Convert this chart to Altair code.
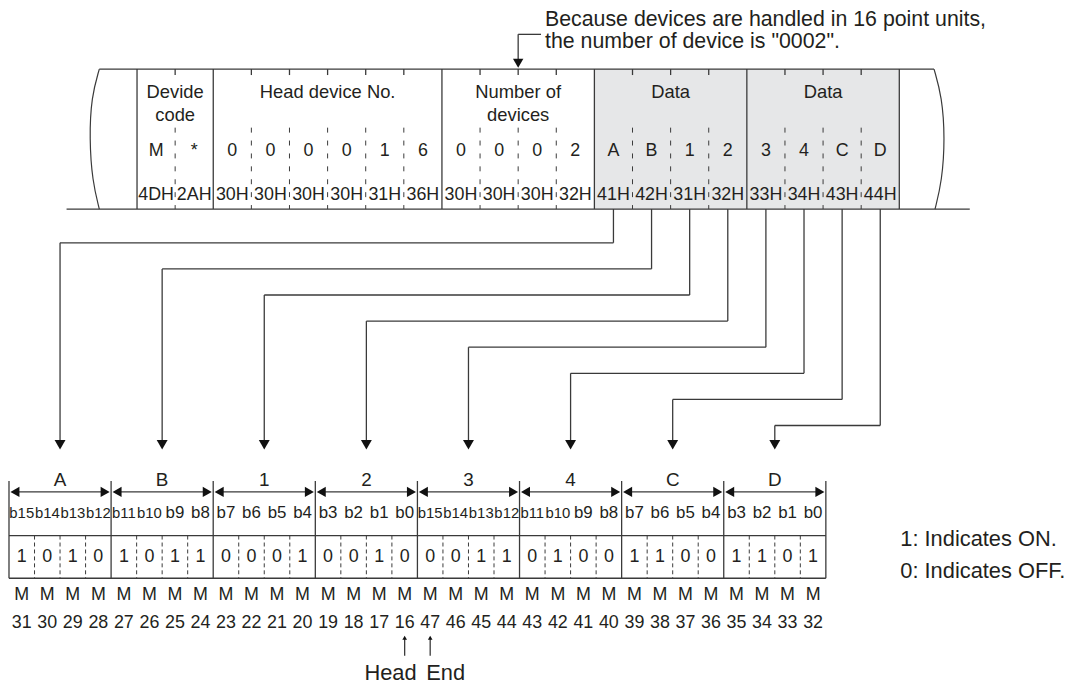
import altair as alt
import pandas as pd

# ---------------- data ----------------
field_names = [["Devide", "code"], ["Head device No."], ["Number of", "devices"], ["Data"], ["Data"]]
field_cells = [2, 6, 4, 4, 4]
char_row = ["M", "*", "0", "0", "0", "0", "1", "6", "0", "0", "0", "2",
            "A", "B", "1", "2", "3", "4", "C", "D"]
hex_row = ["4DH", "2AH", "30H", "30H", "30H", "30H", "31H", "36H", "30H", "30H", "30H", "32H",
           "41H", "42H", "31H", "32H", "33H", "34H", "43H", "44H"]
group_labels = ["A", "B", "1", "2", "3", "4", "C", "D"]
bit_labels = ["b15", "b14", "b13", "b12", "b11", "b10", "b9", "b8",
              "b7", "b6", "b5", "b4", "b3", "b2", "b1", "b0"]
bit_values = [1, 0, 1, 0, 1, 0, 1, 1, 0, 0, 0, 1, 0, 0, 1, 0,
              0, 0, 1, 1, 0, 1, 0, 0, 1, 1, 0, 0, 1, 1, 0, 1]
device_numbers = [31, 30, 29, 28, 27, 26, 25, 24, 23, 22, 21, 20, 19, 18, 17, 16,
                  47, 46, 45, 44, 43, 42, 41, 40, 39, 38, 37, 36, 35, 34, 33, 32]
note_lines = ["Because devices are handled in 16 point units,", 'the number of device is "0002".']
legend_lines = ["1: Indicates ON.", "0: Indicates OFF."]
marker_labels = ["Head", "End"]

# ---------------- layout ----------------
X0, CW = 138.0, 38.4          # top frame cells
TOP, BOT = 67.0, 208.0
BX0 = 9.0                     # bottom table groups
GW = (832.0 - BX0) / 8
SW = GW / 4
DIM_Y, ROW1, ROW2 = 493.0, 537.0, 580.0
LINE = "#3a3a3a"
TXT = "#231f20"
FONT = "Liberation Sans"

texts = []      # centered
ltexts = []     # left aligned
rtexts = []     # right aligned
ntexts = []     # left aligned, alphabetic baseline
solid = []
dash_top = []
dash_bot = []
tri = []

# top frame
solid.append(dict(x=100, y=TOP, x2=941, y2=TOP))
solid.append(dict(x=67, y=BOT, x2=977, y2=BOT))
edges = [0]
for n in field_cells:
    edges.append(edges[-1] + n)
for k in range(21):
    xx = X0 + CW * k
    if k in edges:
        solid.append(dict(x=xx, y=TOP, x2=xx, y2=BOT))
    else:
        solid.append(dict(x=xx, y=TOP, x2=xx, y2=TOP + 6))
        dash_top.append(dict(x=xx, y=126, x2=xx, y2=BOT))
for i, names in enumerate(field_names):
    cx = X0 + CW * (edges[i] + edges[i + 1]) / 2
    for j, t in enumerate(names):
        texts.append(dict(x=cx, y=90 + 23 * j, text=t, size=18.5))
for k in range(20):
    cx = X0 + CW * (k + 0.5)
    texts.append(dict(x=cx, y=150, text=char_row[k], size=18))
    texts.append(dict(x=cx, y=194, text=hex_row[k], size=18))

# note
for j, t in enumerate(note_lines):
    ntexts.append(dict(x=549, y=23.5 + 22 * j, text=t, size=21.5))
ax = X0 + CW * 10
solid.append(dict(x=ax, y=32, x2=545, y2=32))
solid.append(dict(x=ax, y=32, x2=ax, y2=60))
tri.append(dict(x=ax, y=TOP - 6, shape="triangle-down", size=110))

# connectors
for i in range(8):
    sx = X0 + CW * (12 + i + 0.5)
    ly = 242 + 26.3 * i
    tx = BX0 + GW * (i + 0.5)
    solid.append(dict(x=sx, y=BOT, x2=sx, y2=ly))
    solid.append(dict(x=sx, y=ly, x2=tx, y2=ly))
    solid.append(dict(x=tx, y=ly, x2=tx, y2=442))
    tri.append(dict(x=tx, y=445.5, shape="triangle-down", size=121))

# bottom table
for g in range(9):
    xx = BX0 + GW * g
    solid.append(dict(x=xx, y=482, x2=xx, y2=ROW2))
solid.append(dict(x=BX0, y=ROW1, x2=BX0 + 8 * GW, y2=ROW1))
solid.append(dict(x=BX0, y=ROW2, x2=BX0 + 8 * GW, y2=ROW2))
for g in range(8):
    gx = BX0 + GW * g
    solid.append(dict(x=gx + 6, y=DIM_Y, x2=gx + GW - 6, y2=DIM_Y))
    tri.append(dict(x=gx + 6, y=DIM_Y, shape="triangle-left", size=110))
    tri.append(dict(x=gx + GW - 6, y=DIM_Y, shape="triangle-right", size=110))
    texts.append(dict(x=gx + GW / 2, y=481, text=group_labels[g], size=19))
    for s in range(1, 4):
        xx = gx + SW * s
        dash_bot.append(dict(x=xx, y=ROW1, x2=xx, y2=ROW2))
for b in range(32):
    cx = BX0 + SW * (b + 0.5)
    lab = bit_labels[b % 16]
    texts.append(dict(x=cx, y=514, text=lab, size=15 if len(lab) == 3 else 17))
    texts.append(dict(x=cx, y=559, text=str(bit_values[b]), size=18))
    texts.append(dict(x=cx, y=597, text="M", size=18))
    texts.append(dict(x=cx, y=625, text=str(device_numbers[b]), size=18))

# head / end markers
hx = BX0 + SW * 15.5
ex = BX0 + SW * 16.5
for xx in (hx, ex):
    solid.append(dict(x=xx, y=640, x2=xx, y2=658))
    tri.append(dict(x=xx, y=640, shape="triangle-up", size=22))
rtexts.append(dict(x=hx + 12, y=676, text=marker_labels[0], size=22))
ltexts.append(dict(x=ex - 4, y=676, text=marker_labels[1], size=22))

# legend
for j, t in enumerate(legend_lines):
    ltexts.append(dict(x=907, y=540 + 33 * j, text=t, size=22))

# wavy ends
waves = pd.DataFrame([
    dict(side="L", o=0, x=100, y=67), dict(side="L", o=1, x=92, y=95), dict(side="L", o=2, x=90, y=137),
    dict(side="L", o=3, x=93, y=180), dict(side="L", o=4, x=100, y=208),
    dict(side="R", o=0, x=941, y=67), dict(side="R", o=1, x=949, y=95), dict(side="R", o=2, x=952, y=137),
    dict(side="R", o=3, x=949, y=180), dict(side="R", o=4, x=942, y=208),
])

# ---------------- chart ----------------
xs = alt.Scale(domain=[8, 1080], nice=False, zero=False)
ys = alt.Scale(domain=[8, 686], nice=False, zero=False, reverse=True)
X = lambda f="x": alt.X(f"{f}:Q", scale=xs, axis=None)
Y = lambda f="y": alt.Y(f"{f}:Q", scale=ys, axis=None)

gray = alt.Chart(pd.DataFrame([dict(x=X0 + CW * 12, x2=X0 + CW * 20, y=TOP, y2=BOT)])).mark_rect(
    color="#e6e7e8").encode(x=X(), x2="x2:Q", y=Y(), y2="y2:Q")

def rules(rows, dash=None, width=1.3):
    kw = dict(color=LINE, strokeWidth=width)
    if dash:
        kw["strokeDash"] = dash
    return alt.Chart(pd.DataFrame(rows)).mark_rule(**kw).encode(x=X(), x2="x2:Q", y=Y(), y2="y2:Q")

wave = alt.Chart(waves).mark_line(color=LINE, strokeWidth=1.2, interpolate="basis").encode(
    x=X(), y=Y(), detail="side:N", order="o:Q")

tris = alt.Chart(pd.DataFrame(tri)).mark_point(filled=True, opacity=1, color="#111111", strokeWidth=0).encode(
    x=X(), y=Y(), shape=alt.Shape("shape:N", scale=None), size=alt.Size("size:Q", scale=None))

def txt(rows, align, baseline="middle"):
    return alt.Chart(pd.DataFrame(rows)).mark_text(
        align=align, baseline=baseline, font=FONT, color=TXT).encode(
        x=X(), y=Y(), text="text:N", size=alt.Size("size:Q", scale=None))

chart = alt.layer(
    gray, rules(solid), rules(dash_top, [5, 8], 1.0), rules(dash_bot, [4, 3], 1.0), wave, tris,
    txt(texts, "center"), txt(ltexts, "left"), txt(rtexts, "right"), txt(ntexts, "left", "alphabetic"),
).properties(width=1072, height=678, padding=0, autosize="none").configure_view(stroke=None)

chart.save("out.html", embed_options={"renderer": "svg", "actions": False})
